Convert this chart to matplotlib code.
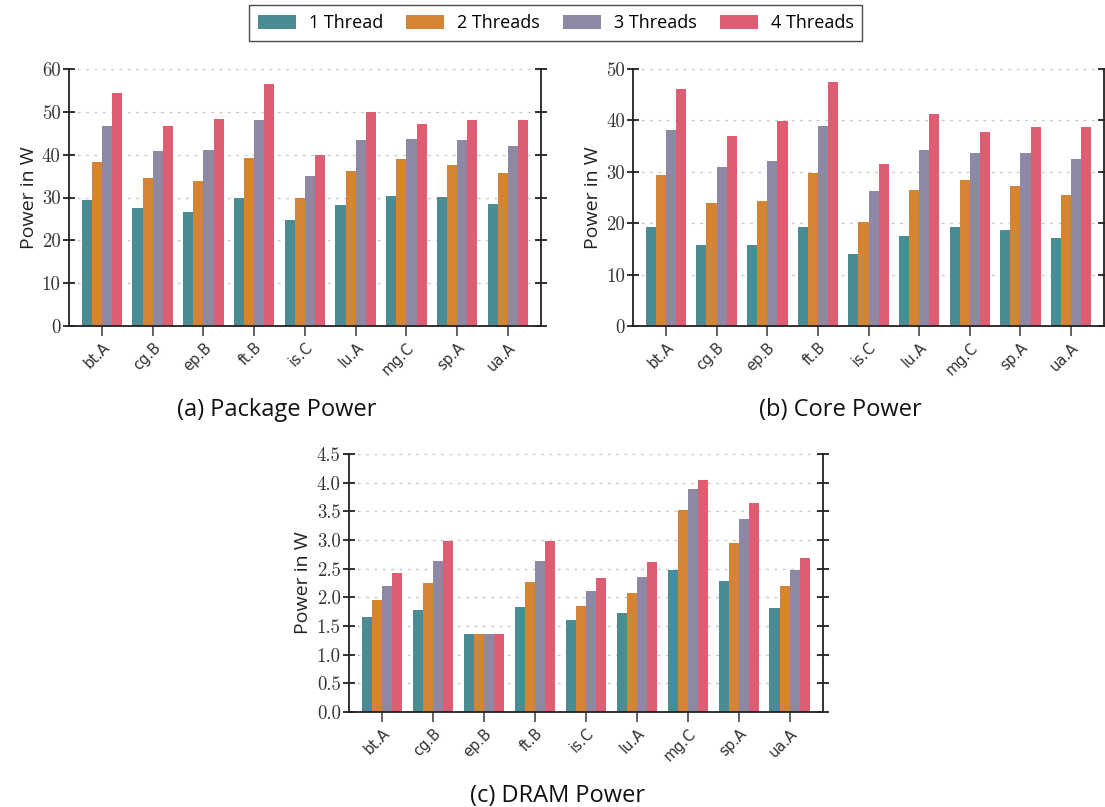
import numpy as np
import matplotlib
matplotlib.use('Agg')
import matplotlib.pyplot as plt

benchmarks = ['bt.A', 'cg.B', 'ep.B', 'ft.B', 'is.C', 'lu.A', 'mg.C', 'sp.A', 'ua.A']
thread_labels = ['1 Thread', '2 Threads', '3 Threads', '4 Threads']
colors = ['#4a8b94', '#d58434', '#8e88a4', '#dd5e72']

# package power (W), one list per thread count
package_1 = [29.4, 27.6, 26.6, 30.0, 24.8, 28.3, 30.4, 30.1, 28.5]
package_2 = [38.3, 34.5, 33.9, 39.2, 29.9, 36.2, 39.0, 37.6, 35.7]
package_3 = [46.7, 40.8, 41.1, 48.1, 35.0, 43.4, 43.6, 43.4, 42.0]
package_4 = [54.3, 46.7, 48.3, 56.4, 39.9, 49.9, 47.1, 48.1, 48.1]

# core power (W)
core_1 = [19.3, 15.8, 15.8, 19.3, 14.0, 17.5, 19.3, 18.7, 17.1]
core_2 = [29.4, 23.9, 24.3, 29.8, 20.2, 26.5, 28.4, 27.2, 25.5]
core_3 = [38.1, 30.9, 32.1, 38.9, 26.3, 34.2, 33.6, 33.6, 32.5]
core_4 = [46.1, 36.9, 39.8, 47.4, 31.5, 41.2, 37.7, 38.7, 38.7]

# DRAM power (W)
dram_1 = [1.65, 1.78, 1.36, 1.83, 1.60, 1.72, 2.47, 2.28, 1.81]
dram_2 = [1.95, 2.25, 1.36, 2.26, 1.85, 2.07, 3.52, 2.95, 2.19]
dram_3 = [2.19, 2.63, 1.36, 2.63, 2.11, 2.35, 3.89, 3.36, 2.47]
dram_4 = [2.42, 2.98, 1.36, 2.98, 2.33, 2.61, 4.05, 3.64, 2.68]

sans = ['Open Sans', 'DejaVu Sans']


def draw_panel(ax, series, yticks, ytick_fmt, title):
    x = np.arange(len(benchmarks))
    width = 0.2
    handles = []
    for i, vals in enumerate(series):
        b = ax.bar(x + (i - 1.5) * width, vals, width, color=colors[i],
                   label=thread_labels[i], zorder=2)
        handles.append(b)
    ax.set_axisbelow(True)
    ax.set_xlim(-0.65, len(benchmarks) - 0.35)
    ax.set_ylim(yticks[0], yticks[-1])
    ax.set_yticks(yticks)
    ax.set_yticklabels([ytick_fmt.format(t) for t in yticks],
                       fontfamily='cmr10', fontsize=13.5, color='#333333')
    ax.set_xticks(x)
    ax.set_xticklabels(benchmarks, rotation=45, ha='right', rotation_mode='anchor',
                       fontfamily='DejaVu Sans', fontsize=10.5, color='#333333')
    ax.yaxis.grid(True, linestyle=(0, (2, 4)), color='#c8c8c8', linewidth=1)
    ax.spines['top'].set_visible(False)
    for s in ['left', 'right', 'bottom']:
        ax.spines[s].set_color('#222222')
        ax.spines[s].set_linewidth(1.3)
    ax.tick_params(axis='y', direction='inout', length=8, width=1.3,
                   right=True, color='#222222', pad=2)
    ax.tick_params(axis='x', direction='inout', length=14, width=1.3,
                   color='#555555', pad=3)
    ax.set_ylabel('Power in W', fontfamily=sans, fontsize=14, color='#222222', labelpad=3)
    ax.text(0.44, -0.28, title, transform=ax.transAxes, ha='center', va='top',
            fontfamily=sans, fontsize=17, color='#111111')
    return handles


fig = plt.figure(figsize=(11.05, 8.07), dpi=100)
ax_a = fig.add_axes([0.0624, 0.5960, 0.4271, 0.3185])
ax_b = fig.add_axes([0.5729, 0.5960, 0.4262, 0.3185])
ax_c = fig.add_axes([0.3158, 0.1177, 0.4290, 0.3197])

h = draw_panel(ax_a, [package_1, package_2, package_3, package_4],
               [0, 10, 20, 30, 40, 50, 60], '{:d}', '(a) Package Power')
draw_panel(ax_b, [core_1, core_2, core_3, core_4],
           [0, 10, 20, 30, 40, 50], '{:d}', '(b) Core Power')
draw_panel(ax_c, [dram_1, dram_2, dram_3, dram_4],
           [0.0, 0.5, 1.0, 1.5, 2.0, 2.5, 3.0, 3.5, 4.0, 4.5], '{:.1f}', '(c) DRAM Power')

leg = fig.legend(handles=h, labels=thread_labels, loc='upper center',
                 bbox_to_anchor=(0.503, 0.994), ncol=4, frameon=True, fancybox=False,
                 prop={'family': sans, 'size': 13}, handlelength=2.1, handleheight=0.8,
                 columnspacing=1.3, handletextpad=0.7, borderpad=0.5, borderaxespad=0.0)
leg.get_frame().set_edgecolor('#222222')
leg.get_frame().set_linewidth(1.0)

fig.savefig('out.png', dpi=100)
